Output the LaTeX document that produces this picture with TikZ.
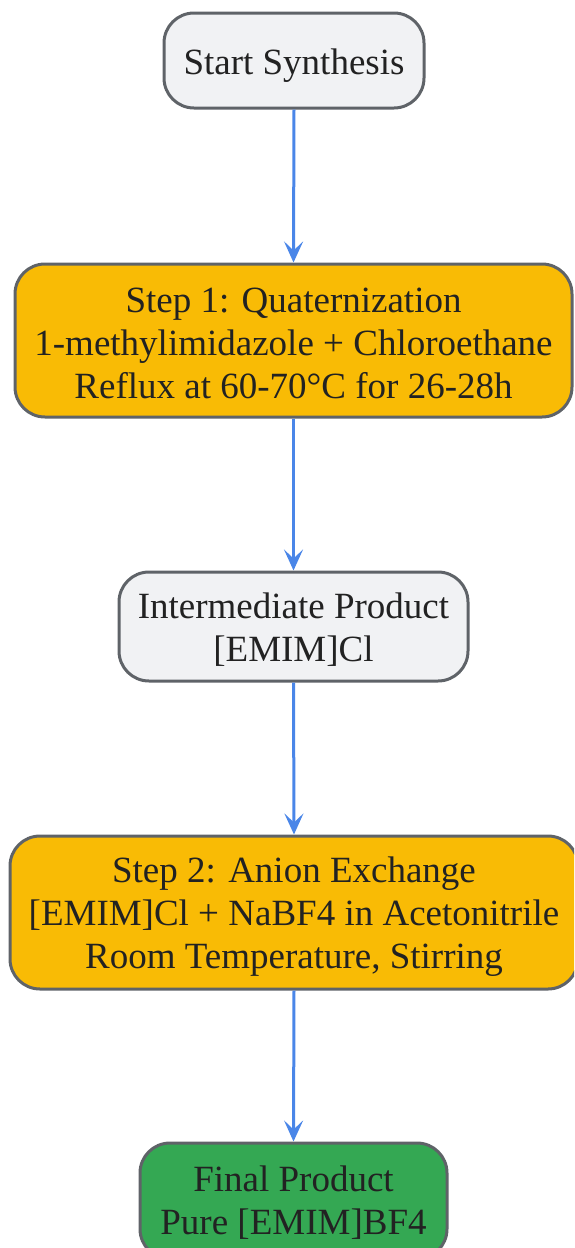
\documentclass[tikz,border=0pt]{standalone}
\usepackage{fontspec}
\setmainfont{Liberation Serif}
\usetikzlibrary{arrows.meta}
\definecolor{grayfill}{HTML}{F1F2F4}
\definecolor{boxline}{HTML}{5F6368}
\definecolor{orangefill}{HTML}{F9BB05}
\definecolor{greenfill}{HTML}{34A853}
\definecolor{arrowblue}{HTML}{4A86E8}
\definecolor{txt}{HTML}{222222}
\tikzset{
  box/.style={draw=boxline, line width=3pt, rounded corners=30pt, inner sep=0pt},
  graybox/.style={box, fill=grayfill},
  orangebox/.style={box, fill=orangefill},
  greenbox/.style={box, fill=greenfill},
  label text/.style={inner sep=0pt, align=center, text=txt, font=\fontsize{37}{43}\selectfont},
  flow/.style={draw=arrowblue, line width=3pt,
    -{Stealth[length=21pt,width=19pt,inset=9pt]}}
}
\begin{document}
\begin{tikzpicture}[x=1pt,y=1pt]
\useasboundingbox (0,0) rectangle (574,-1248);
\clip (0,0) rectangle (574,-1248);
\node[graybox, minimum width=260pt, minimum height=95pt] (start) at (294,-60.5) {};
\node[orangebox, minimum width=557pt, minimum height=153pt] (s1) at (293.5,-340.5) {};
\node[graybox, minimum width=349pt, minimum height=109pt] (inter) at (293.5,-626.5) {};
\node[orangebox, minimum width=568pt, minimum height=153pt] (s2) at (294,-912.5) {};
\node[greenbox, minimum width=307pt, minimum height=116pt] (fin) at (293.5,-1201) {};
\node[label text] (startT) at ([yshift=-5pt]start.center) {Start Synthesis};
\node[label text] (s1T) at ([yshift=-2.5pt]s1.center) {Step 1: Quaternization\\1-methylimidazole + Chloroethane\\Reflux at 60-70°C for 26-28h};
\node[label text] (interT) at ([yshift=-3.5pt]inter.center) {Intermediate Product\\{}[EMIM]Cl};
\node[label text] (s2T) at ([yshift=-4.5pt]s2.center) {Step 2: Anion Exchange\\{}[EMIM]Cl + NaBF4 in Acetonitrile\\Room Temperature, Stirring};
\node[label text] (finT) at ([yshift=-1.5pt]fin.center) {Final Product\\Pure [EMIM]BF4};
\draw[flow] (start.south) -- (s1.north);
\draw[flow] (s1.south) -- (inter.north);
\draw[flow] (inter.south) -- (s2.north);
\draw[flow] (s2.south) -- (fin.north);
\end{tikzpicture}
\end{document}
